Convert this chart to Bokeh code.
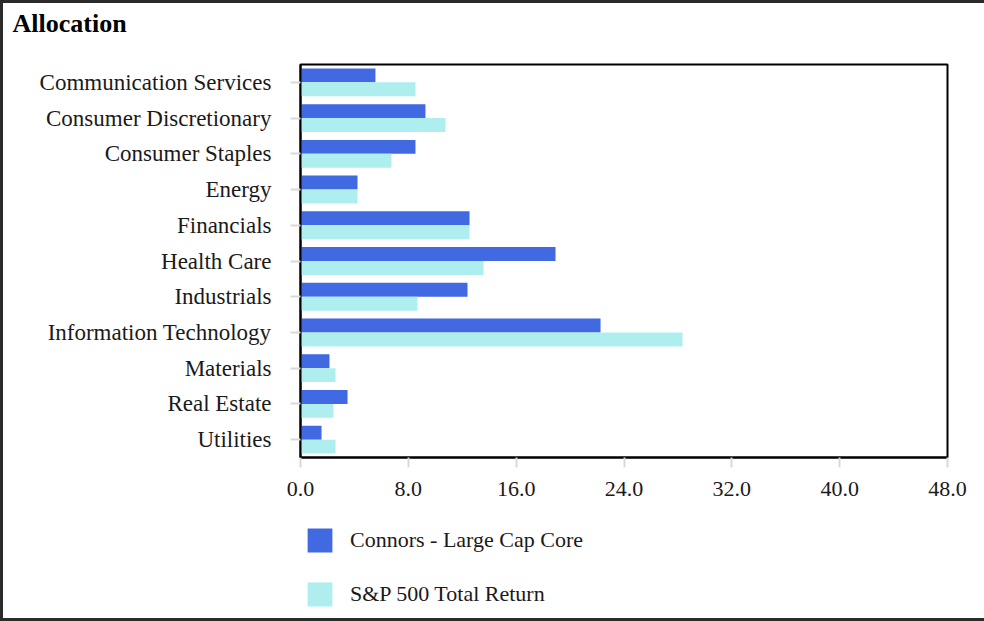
from bokeh.plotting import figure
from bokeh.layouts import column
from bokeh.models import (FactorRange, Range1d, Legend, LegendItem, FixedTicker,
                          NumeralTickFormatter, ColumnDataSource)
from bokeh.transform import dodge
from bokeh.embed import file_html
from bokeh.resources import INLINE

categories = ["Communication Services", "Consumer Discretionary", "Consumer Staples",
              "Energy", "Financials", "Health Care", "Industrials",
              "Information Technology", "Materials", "Real Estate", "Utilities"]
connors = [5.56, 9.27, 8.53, 4.23, 12.54, 18.92, 12.39, 22.26, 2.15, 3.49, 1.56]
sp500 = [8.53, 10.76, 6.75, 4.23, 12.54, 13.58, 8.68, 28.34, 2.60, 2.45, 2.60]
x_ticks = [0, 8, 16, 24, 32, 40, 48]
series_names = ["Connors - Large Cap Core", "S&P 500 Total Return"]
series_colors = ["#4169E1", "#AFEEEE"]
title_text = "Allocation"

FONT = "Liberation Serif"
TXT = "#1a1a1a"
W = 981

source = ColumnDataSource(dict(cat=categories, connors=connors, sp500=sp500))

# ---- title strip (its frame aligns with the main frame in the column) ----
tfig = figure(width=W, height=36, output_backend="svg", toolbar_location=None,
              x_range=Range1d(0, 1), y_range=Range1d(0, 1),
              min_border_left=297, min_border_right=37, min_border_top=35,
              min_border_bottom=0, x_axis_type=None, y_axis_type=None)
tfig.outline_line_color = None
tfig.grid.visible = False
tfig.title.text = title_text
tfig.title.align = "left"
tfig.title.offset = -288
tfig.title.standoff = 2
tfig.title.text_font = FONT
tfig.title.text_font_size = "26px"
tfig.title.text_font_style = "bold"
tfig.title.text_color = "black"

# ---- main chart ----
p = figure(width=W, height=466, output_backend="svg", toolbar_location=None,
           y_range=FactorRange(*reversed(categories)), x_range=Range1d(0, 48),
           min_border_left=297, min_border_right=37, min_border_top=25,
           min_border_bottom=48)

p.hbar(y=dodge("cat", 0.195, range=p.y_range), right="connors", left=0,
       height=0.39, source=source, fill_color=series_colors[0], line_color=None)
p.hbar(y=dodge("cat", -0.195, range=p.y_range), right="sp500", left=0,
       height=0.39, source=source, fill_color=series_colors[1], line_color=None)

p.xgrid.grid_line_color = None
p.ygrid.grid_line_color = None
p.outline_line_color = "black"
p.outline_line_width = 2

xa = p.xaxis[0]
xa.ticker = FixedTicker(ticks=x_ticks)
xa.formatter = NumeralTickFormatter(format="0.0")
xa.axis_line_color = "black"
xa.axis_line_width = 2
xa.major_tick_line_color = "#d9d9d9"
xa.major_tick_line_width = 2
xa.major_tick_out = 10
xa.major_tick_in = 0
xa.minor_tick_line_color = None
xa.major_label_text_font = FONT
xa.major_label_text_font_size = "22px"
xa.major_label_text_color = TXT
xa.major_label_standoff = 14

ya = p.yaxis[0]
ya.axis_line_color = "black"
ya.axis_line_width = 2
ya.major_tick_line_color = "#d9d9d9"
ya.major_tick_line_width = 2
ya.major_tick_out = 10
ya.major_tick_in = 0
ya.major_label_text_font = FONT
ya.major_label_text_font_size = "23px"
ya.major_label_text_color = TXT
ya.major_label_standoff = 19

# ---- legend strip (hidden proxy renderers carry the legend swatches) ----
lfig = figure(width=W, height=113, output_backend="svg", toolbar_location=None,
              x_range=Range1d(0, 48), y_range=FactorRange(*reversed(categories)),
              min_border_left=297, min_border_right=37, min_border_top=0,
              min_border_bottom=0, x_axis_type=None, y_axis_type=None)
lfig.outline_line_color = None
lfig.grid.visible = False
l1 = lfig.hbar(y="cat", right="connors", left=0, height=0.39, source=source,
               fill_color=series_colors[0], line_color=None, visible=False)
l2 = lfig.hbar(y="cat", right="sp500", left=0, height=0.39, source=source,
               fill_color=series_colors[1], line_color=None, visible=False)
legend = Legend(items=[LegendItem(label=series_names[0], renderers=[l1]),
                       LegendItem(label=series_names[1], renderers=[l2])],
                location=(4, 9), orientation="vertical",
                glyph_width=31, glyph_height=30, spacing=24, label_standoff=15,
                label_text_font=FONT, label_text_font_size="22px",
                label_text_color=TXT, border_line_alpha=0,
                background_fill_alpha=0, inactive_fill_alpha=0,
                padding=0, margin=0)
lfig.add_layout(legend, "center")

layout = column(tfig, p, lfig, spacing=0,
                styles={"border-left": "3px solid #2b2b2b",
                        "border-top": "3px solid #2b2b2b",
                        "border-bottom": "3px solid #2b2b2b"})

open("out.html", "w").write(file_html(layout, INLINE))
